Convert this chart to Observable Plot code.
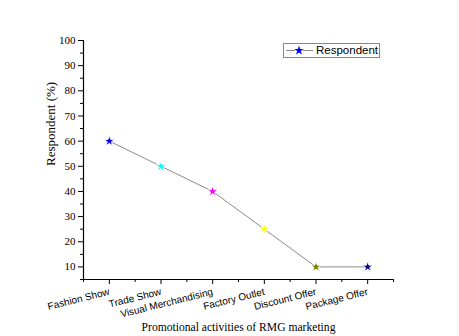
<!DOCTYPE html>
<html>
<head>
<meta charset="utf-8">
<script src="https://cdn.jsdelivr.net/npm/d3@7"></script>
<script src="https://cdn.jsdelivr.net/npm/@observablehq/plot@0.6"></script>
<style>
  html, body { margin: 0; padding: 0; background: #fff; }
  #wrap { position: relative; width: 459px; height: 336px; }
  #legend { position: absolute; left: 283px; top: 43px; width: 95px; height: 13px;
    border: 1px solid #888; background: #fff; font-family: Arial, "Liberation Sans", sans-serif;
    font-size: 11.5px; line-height: 13px; display: flex; align-items: center; }
</style>
</head>
<body>
<div id="wrap"></div>
<script>
const categories = ["Fashion Show", "Trade Show", "Visual Merchandising", "Factory Outlet", "Discount Offer", "Package Offer"];
const values = [60, 50, 40, 25, 10, 10];
const colors = ["#0000ff", "#00ffff", "#ff00ff", "#ffff00", "#808000", "#000080"];
const yTicks = [10, 20, 30, 40, 50, 60, 70, 80, 90, 100];
const yMinor = [5, 15, 25, 35, 45, 55, 65, 75, 85, 95];
const seriesName = "Respondent";

const data = categories.map((c, i) => ({i, c, v: values[i], col: colors[i]}));
const idx = categories.map((c, i) => i);
const xMinor = [-0.5, ...idx.map(i => i + 0.5)];

const serif = "'Liberation Serif', 'Times New Roman', serif";
const sans = "Arial, 'Liberation Sans', sans-serif";

const chart = Plot.plot({
  width: 459,
  height: 336,
  marginLeft: 83,
  marginRight: 66,
  marginTop: 40,
  marginBottom: 57,
  style: {background: "#fff", overflow: "visible"},
  x: {type: "linear", domain: [-0.5, 5.5]},
  y: {domain: [5, 100]},
  marks: [
    Plot.ruleX([-0.5], {stroke: "#000", strokeWidth: 1.2}),
    Plot.ruleY([5], {stroke: "#000", strokeWidth: 1.2}),
    Plot.axisY({ticks: yTicks, tickSize: 5, tickPadding: 3, fontFamily: serif, fontSize: 11,
      label: null, stroke: "#000"}),
    Plot.axisY({ticks: yMinor, tickSize: 3, tickFormat: () => "", label: null}),
    Plot.axisX({ticks: idx, tickSize: 5, tickFormat: i => categories[i], tickRotate: -14,
      fontFamily: sans, fontSize: 10, tickPadding: 7, label: null}),
    Plot.axisX({ticks: xMinor, tickSize: 3, tickFormat: () => "", label: null}),
    Plot.text(["Respondent (%)"], {frameAnchor: "left", rotate: -90, dx: -33, dy: 6,
      fontFamily: serif, fontSize: 13, fill: "#000"}),
    Plot.text(["Promotional activities of RMG marketing"], {frameAnchor: "bottom", dy: 51,
      fontFamily: serif, fontSize: 11.6, fill: "#000"}),
    Plot.line(data, {x: "i", y: "v", stroke: "#8a8a8a", strokeWidth: 1}),
    Plot.dot(data, {x: "i", y: "v", symbol: "star", r: 3.3, fill: "col", stroke: "#fff", strokeWidth: 0.8})
  ]
});
document.getElementById("wrap").appendChild(chart);

const leg = document.createElement("div");
leg.id = "legend";
leg.innerHTML = `<svg width="31" height="13" style="flex:none"><line x1="2" x2="11" y1="6.5" y2="6.5" stroke="#8a8a8a"/>` +
  `<line x1="19" x2="29" y1="6.5" y2="6.5" stroke="#8a8a8a"/>` +
  `<path transform="translate(15,6.5)" d="${d3.symbol(d3.symbolStar, 28)()}" fill="#0000ff"/></svg>` +
  `<span style="margin-left:1px">${seriesName}</span>`;
document.getElementById("wrap").appendChild(leg);
</script>
</body>
</html>
